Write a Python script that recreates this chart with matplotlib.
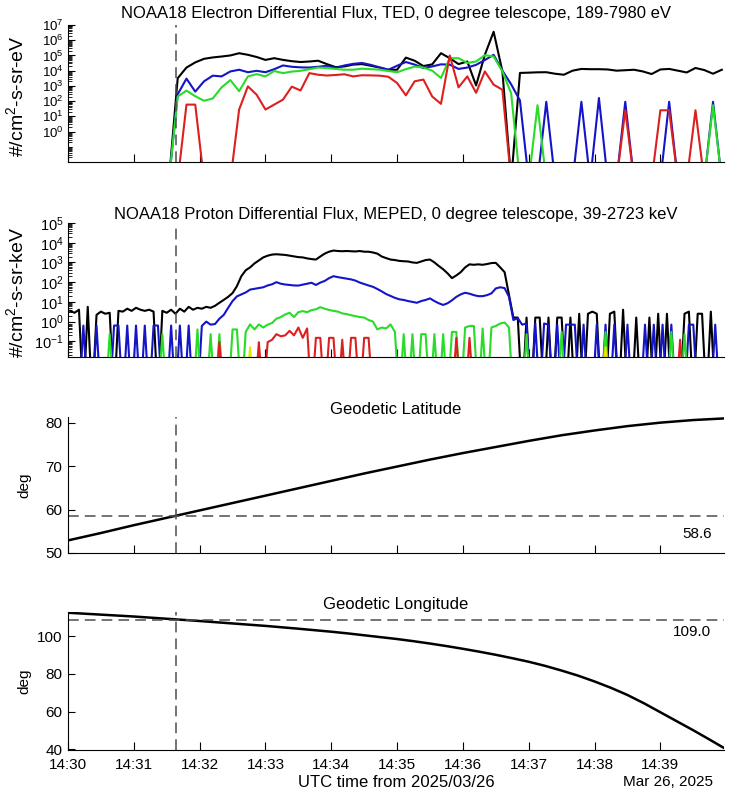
import numpy as np
import matplotlib
matplotlib.use("Agg")
import matplotlib.pyplot as plt
import matplotlib.dates as mdates
from matplotlib.ticker import FixedLocator, LogLocator, FuncFormatter, NullFormatter

plt.rcParams['font.family'] = ['Liberation Sans', 'DejaVu Sans']
plt.rcParams['mathtext.fontset'] = 'custom'
plt.rcParams['mathtext.rm'] = 'Liberation Sans'
plt.rcParams['mathtext.it'] = 'Liberation Sans:italic'
plt.rcParams['mathtext.bf'] = 'Liberation Sans:bold'

t0 = np.datetime64('2025-03-26T14:30:00')
t_end = np.datetime64('2025-03-26T14:39:58')
t_mark = np.datetime64('2025-03-26T14:31:38')
lat_mark = 58.6
lon_mark = 109.0

# TED electrons, 8 s samples starting 14:30:04
ele_t = t0 + (4 + 8 * np.arange(75)) * np.timedelta64(1, 's')
ele_black = [0, 0, 0, 0, 0, 0, 0, 0, 0, 0,
             0, 0, 3200, 16000, 35000, 60000, 74000, 85000, 100000, 140000,
             110000, 79000, 51000, 66000, 51000, 42000, 37000, 40000, 45000, 27000,
             17000, 19000, 25000, 27000, 21000, 16000, 11500, 11500, 72000, 45000,
             20000, 26000, 140000, 66000, 27000, 40000, 1070, 110000, 3600000, 8900,
             0, 7100, 7400, 7800, 7900, 6300, 5400, 10000, 13000, 12500,
             12500, 12000, 10000, 10700, 11500, 8900, 6000, 12000, 13000, 10000,
             7600, 15000, 11000, 6300, 11500]
ele_blue = [0, 0, 0, 0, 0, 0, 0, 0, 0, 0,
            0, 0, 280, 3000, 420, 2000, 4700, 4200, 8900, 11500,
            7900, 9800, 7900, 12500, 22000, 18000, 16500, 16000, 18000, 21000,
            15000, 22000, 28000, 32000, 24000, 16500, 11500, 21000, 37000, 25000,
            15000, 19000, 26000, 25000, 13000, 16000, 24000, 50000, 110000, 10000,
            1250, 110, 0, 0, 90, 0, 0, 0, 90, 0,
            160, 0, 0, 90, 0, 0, 0, 0, 90, 0,
            0, 0, 0, 90, 0]
ele_green = [0, 0, 0, 0, 0, 0, 0, 0, 0, 0,
             0, 0, 200, 490, 210, 105, 150, 800, 2400, 450,
             4200, 5900, 4200, 9500, 6900, 8700, 9800, 12500, 16000, 15000,
             13000, 11500, 11500, 13500, 12500, 11700, 9500, 7900, 12500, 18500,
             16000, 10000, 3300, 66000, 66000, 32000, 40000, 105000, 85000, 8900,
             320, 0, 0, 54, 0, 0, 0, 0, 0, 0,
             0, 0, 0, 0, 0, 0, 0, 0, 0, 0,
             0, 0, 0, 54, 0]
ele_red = [0, 0, 0, 0, 0, 0, 0, 0, 0, 0,
           0, 0, 0, 59, 59, 0, 0, 0, 0, 28,
           930, 260, 28, 59, 126, 890, 500, 6900, 5400, 4800,
           5200, 5800, 4200, 5000, 4900, 4700, 4000, 1550, 240, 2000,
           2600, 200, 66, 100000, 800, 4200, 350, 8900, 1200, 560,
           0, 0, 0, 0, 0, 0, 0, 0, 0, 0,
           0, 0, 0, 25, 0, 0, 0, 25, 25, 0,
           0, 25, 0, 0, 0]

# MEPED protons, 4 s samples starting 14:30:02
pro_t = t0 + (2 + 4 * np.arange(150)) * np.timedelta64(1, 's')
pro_black = [3.5, 2.8, 4.0, 0, 5.6, 0, 2.2, 3.2, 2.5, 2.8,
             0, 3.5, 3.2, 4.5, 3.5, 5.0, 4.0, 3.5, 4.0, 3.2,
             0, 3.5, 2.8, 4.0, 2.5, 4.5, 3.2, 5.6, 4.0, 5.0,
             4.5, 5.6, 5.0, 6.3, 9, 12.6, 18, 28, 63, 200,
             400, 560, 890, 1260, 1800, 2200, 2500, 2600, 2500, 2400,
             2200, 2000, 1860, 1800, 1600, 1480, 1400, 2000, 2800, 3500,
             4000, 3800, 3700, 3800, 3700, 3600, 3800, 3500, 3500, 3200,
             2800, 2000, 1660, 1400, 1320, 1200, 1150, 1120, 1000, 950,
             1120, 1320, 1400, 1000, 660, 450, 280, 160, 220, 320,
             560, 800, 760, 800, 760, 830, 930, 950, 560, 320,
             22, 1.6, 1.6, 0, 1.6, 0, 1.6, 1.6, 0, 1.6,
             0, 1.6, 1.6, 0, 1.6, 0, 2.5, 0, 2.5, 3.2,
             2.5, 0, 0, 2.5, 3.2, 0, 4.0, 0, 0, 1.6,
             0, 0, 1.6, 0, 2.5, 0, 2.5, 0, 0, 0,
             2.5, 3.2, 0, 2.5, 2.5, 0, 3.2, 0, 0, 0]
pro_blue = [0, 0, 0, 0.63, 0, 0, 0.63, 0, 0, 0,
            0.63, 0.63, 0, 0.63, 0, 0.63, 0, 0.63, 0, 0.63,
            0.63, 0, 0, 0.63, 0, 0.63, 0, 0.63, 0, 0,
            0.6, 1.0, 0.7, 0.75, 1.4, 2.2, 5.0, 11, 19, 24,
            30, 42, 46, 50, 55, 68, 78, 100, 83, 76,
            72, 68, 67, 75, 85, 93, 72, 95, 115, 160,
            200, 180, 165, 150, 138, 120, 95, 80, 68, 58,
            45, 34, 25, 20, 16, 13.5, 12.5, 11, 10, 9,
            11, 12.5, 15, 11, 8.5, 7, 8.5, 12, 18, 24,
            29, 26, 22, 19.5, 19.5, 22, 27, 48, 55, 50,
            18, 1.2, 1.5, 0.7, 0.8, 0, 0.8, 0, 0.8, 0.7,
            0, 0.7, 0, 0.7, 0.7, 0.7, 0, 0.7, 0, 0,
            0.7, 0, 0.7, 0, 0.7, 0, 0, 0.7, 0, 0,
            0, 0.7, 0, 0.7, 0, 0.7, 0, 0.7, 0, 0,
            0, 0.7, 0.7, 0, 0, 0, 0, 0.7, 0, 0]
pro_green = [0, 0, 0, 0, 0, 0, 0, 0, 0, 0.23,
             0, 0, 0, 0, 0, 0, 0, 0, 0, 0,
             0, 0.23, 0, 0, 0, 0, 0, 0, 0, 0.4,
             0, 0, 0.23, 0, 0.23, 0, 0, 0.4, 0.4, 0,
             0.3, 0.72, 0.4, 0.72, 0.5, 0.7, 0.85, 1.4, 1.7, 2.3,
             2.8, 1.7, 3.0, 3.4, 3.0, 3.8, 4.2, 5.4, 4.5, 3.9,
             3.5, 3.2, 2.6, 2.4, 2.1, 1.9, 1.7, 1.6, 1.2, 1.0,
             0.4, 0.5, 0.45, 0.72, 0.3, 0, 0.23, 0, 0.23, 0,
             0.23, 0.23, 0, 0.23, 0, 0.23, 0, 0.3, 0.3, 0,
             0.5, 0.6, 0.6, 0, 0.45, 0, 0.5, 0.6, 0.8, 0.9,
             0.5, 0, 0, 0, 0.23, 0, 0, 0, 0, 0,
             0, 0, 0.3, 0, 0, 0, 0, 0, 0, 0,
             0, 0, 0.3, 0, 0, 0, 0, 0, 0, 0,
             0, 0, 0, 0, 0, 0, 0, 0.3, 0, 0,
             0.23, 0, 0, 0, 0, 0, 0, 0, 0, 0]
pro_yellow = [0] * 41 + [0.05] + [0] * 80 + [0.05] + [0] * 27
pro_red = [0, 0, 0, 0, 0, 0, 0, 0, 0, 0,
           0, 0, 0, 0, 0, 0, 0, 0, 0, 0,
           0, 0, 0, 0, 0, 0, 0, 0, 0, 0,
           0, 0, 0, 0, 0.09, 0, 0, 0, 0, 0,
           0, 0, 0, 0.09, 0, 0.09, 0.12, 0.23, 0.18, 0.2,
           0.34, 0.2, 0.5, 0.15, 0.45, 0, 0.15, 0.15, 0, 0.15,
           0.15, 0, 0.12, 0, 0.15, 0.15, 0, 0.15, 0.15, 0,
           0, 0, 0, 0, 0, 0, 0, 0, 0, 0,
           0, 0, 0, 0, 0, 0, 0, 0, 0.15, 0,
           0, 0.15, 0, 0, 0, 0, 0, 0, 0, 0,
           0, 0, 0, 0, 0, 0, 0, 0, 0, 0,
           0, 0, 0, 0, 0, 0, 0, 0, 0, 0,
           0, 0, 0, 0, 0, 0, 0, 0, 0, 0,
           0, 0, 0, 0, 0, 0, 0, 0, 0, 0.12,
           0, 0, 0, 0, 0, 0, 0, 0, 0, 0]

# ephemeris, every 15 s
eph_t = t0 + 15 * np.arange(41) * np.timedelta64(1, 's')
lat = [52.9, 53.75, 54.6, 55.5, 56.4, 57.25, 58.1, 58.95, 59.8, 60.65,
       61.5, 62.35, 63.2, 64.05, 64.9, 65.75, 66.6, 67.45, 68.3, 69.1,
       69.9, 70.7, 71.5, 72.25, 73.0, 73.7, 74.4, 75.1, 75.8, 76.45,
       77.1, 77.65, 78.2, 78.7, 79.2, 79.6, 80.0, 80.3, 80.6, 80.8, 81.0]
lon = [112.6, 112.1, 111.6, 111.1, 110.6, 110.0, 109.4, 108.8, 108.2, 107.55,
       106.9, 106.25, 105.6, 104.85, 104.1, 103.3, 102.5, 101.6, 100.6, 99.6,
       98.6, 97.45, 96.2, 94.85, 93.4, 91.85, 90.2, 88.4, 86.5, 84.3,
       81.8, 79.1, 76.0, 72.6, 68.8, 64.4, 59.6, 54.8, 50.0, 45.0, 39.9]

BLUE = '#1414c8'
GREEN = '#28dc28'
RED = '#dc2020'
YELLOW = '#e6e600'
DASH = dict(color='0.3', lw=1.1, ls=(0, (7, 4)))

fig = plt.figure(figsize=(7.3, 7.95), dpi=100)
L, W = 68 / 730, 656 / 730


def rect(top, bottom):
    return [L, 1 - bottom / 795, W, (bottom - top) / 795]


ax1 = fig.add_axes(rect(25, 162))
ax2 = fig.add_axes(rect(223, 357))
ax3 = fig.add_axes(rect(417, 553))
ax4 = fig.add_axes(rect(612, 750))


def flux(ax, t, vals, color, floor):
    v = np.asarray(vals, float)
    ax.plot(t, np.where(v > 0, v, floor), color=color, lw=1.5)


for v, c in [(ele_black, 'black'), (ele_blue, BLUE), (ele_green, GREEN), (ele_red, RED)]:
    flux(ax1, ele_t, v, c, 6e-4)
for v, c in [(pro_black, 'black'), (pro_blue, BLUE), (pro_green, GREEN),
             (pro_yellow, YELLOW), (pro_red, RED)]:
    flux(ax2, pro_t, v, c, 1e-4)

ax3.plot(eph_t, lat, color='black', lw=1.8)
ax4.plot(eph_t, lon, color='black', lw=1.8)
ax3.axhline(lat_mark, **DASH)
ax4.axhline(lon_mark, **DASH)
ax3.annotate(f'{lat_mark:.1f}', xy=(1, lat_mark), xycoords=('axes fraction', 'data'),
             xytext=(-9, -8), textcoords='offset points', ha='right', va='top', fontsize=11)
ax4.annotate(f'{lon_mark:.1f}', xy=(1, lon_mark), xycoords=('axes fraction', 'data'),
             xytext=(-9, -4), textcoords='offset points', ha='right', va='top', fontsize=11)

logfmt = FuncFormatter(lambda v, p: '$10^{%d}$' % int(round(np.log10(v))))
for ax, lo, hi, first in [(ax1, 1e-2, 1e7, 0), (ax2, 0.016, 1e5, -1)]:
    ax.set_yscale('log')
    ax.set_ylim(lo, hi)
    ax.yaxis.set_major_locator(FixedLocator(10.0 ** np.arange(first, np.log10(hi) + 1)))
    ax.yaxis.set_minor_locator(LogLocator(base=10, subs=np.arange(1, 10), numticks=30))
    ax.yaxis.set_major_formatter(logfmt)
    ax.yaxis.set_minor_formatter(NullFormatter())

ax3.set_ylim(50, 81.3)
ax3.set_yticks([50, 60, 70, 80])
ax4.set_ylim(39.5, 113)
ax4.set_yticks([40, 60, 80, 100])

for ax in (ax1, ax2, ax3, ax4):
    ax.axvline(mdates.date2num(t_mark), **DASH)
    ax.set_xlim(t0, t_end)
    ax.xaxis.set_major_locator(mdates.MinuteLocator())
    ax.xaxis.set_major_formatter(mdates.DateFormatter('%H:%M'))
    for s in ('top', 'right'):
        ax.spines[s].set_visible(False)
    ax.tick_params(direction='in', which='both', labelsize=11)
    ax.tick_params(axis='x', length=6, pad=6)
    ax.tick_params(axis='y', which='major', length=5, pad=4)
    ax.tick_params(axis='y', which='minor', length=3)
ax1.tick_params(axis='y', which='major', labelsize=9.5, pad=3)
ax2.tick_params(axis='y', which='major', labelsize=10.5, pad=3)
for ax in (ax1, ax2, ax3):
    ax.tick_params(axis='x', labelbottom=False)

ax1.set_title('NOAA18 Electron Differential Flux, TED, 0 degree telescope, 189-7980 eV',
              fontsize=12, pad=5)
ax2.set_title('NOAA18 Proton Differential Flux, MEPED, 0 degree telescope, 39-2723 keV',
              fontsize=12, pad=3)
ax3.set_title('Geodetic Latitude', fontsize=12, pad=2.5)
ax4.set_title('Geodetic Longitude', fontsize=12, pad=2)

ax1.set_ylabel('#/cm$^2$-s-sr-eV', fontsize=14)
ax2.set_ylabel('#/cm$^2$-s-sr-keV', fontsize=14)
ax3.set_ylabel('deg', fontsize=11)
ax4.set_ylabel('deg', fontsize=11)
for ax in (ax1, ax2):
    ax.yaxis.set_label_coords(-0.062, 0.48)
for ax in (ax3, ax4):
    ax.yaxis.set_label_coords(-0.056, 0.5)

ax4.set_xlabel('UTC time from 2025/03/26', fontsize=12)
ax4.xaxis.set_label_coords(0.5, -0.232)
ax4.xaxis.label.set_va('center')
ax4.text(0.983, -0.232, 'Mar 26, 2025', transform=ax4.transAxes,
         ha='right', va='center', fontsize=11)

fig.savefig('out.png', dpi=100)
